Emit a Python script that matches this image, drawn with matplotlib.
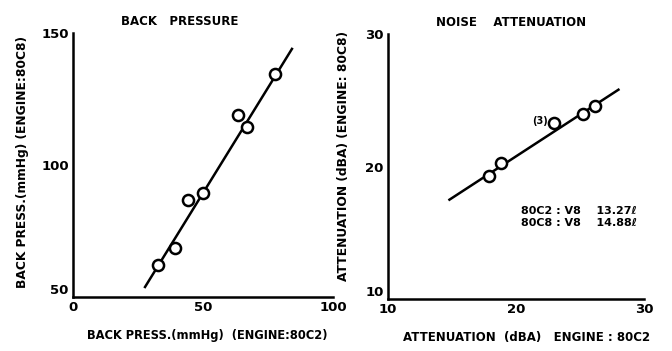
import matplotlib.pyplot as plt

# Back pressure (mmHg): engine 80C2 vs engine 80C8
bp_x = [32.7, 39.2, 44.2, 50.0, 63.5, 66.9, 77.7]
bp_y = [62.0, 68.5, 86.7, 89.4, 119.0, 114.5, 134.5]
bp_line_x = [27.7, 84.2]
bp_line_y = [53.8, 144.0]

# Noise attenuation (dBA): engine 80C2 vs engine 80C8
na_x = [17.9, 18.8, 23.0, 25.2, 26.2]
na_y = [19.3, 20.3, 23.3, 24.0, 24.6]
na_line_x = [14.8, 28.0]
na_line_y = [17.5, 25.8]

note_lines = ["80C2 : V8    13.27ℓ", "80C8 : V8    14.88ℓ"]

FONT = dict(family="DejaVu Sans", fontweight="bold", color="black")

fig = plt.figure(figsize=(6.72, 3.51), dpi=100)
fig.patch.set_facecolor("white")

ax1 = fig.add_axes([0.1086, 0.1538, 0.387, 0.752])
ax2 = fig.add_axes([0.5774, 0.148, 0.381, 0.755])


def style(ax):
    for s in ["top", "right"]:
        ax.spines[s].set_visible(False)
    for s in ["left", "bottom"]:
        ax.spines[s].set_linewidth(1.8)
        ax.spines[s].set_color("black")
    ax.tick_params(length=0, pad=3, labelsize=9.5)
    for lab in ax.get_xticklabels() + ax.get_yticklabels():
        lab.set_fontweight("bold")
        lab.set_family("DejaVu Sans")
    # lowest y tick label sits a little above the corner, as in the original
    ax.get_yticklabels()[0].set_va("bottom")


# left panel
ax1.plot(bp_line_x, bp_line_y, color="black", lw=1.8, zorder=2)
ax1.plot(bp_x, bp_y, "o", ms=8, mfc="white", mec="black", mew=1.8, zorder=3)
ax1.set_xlim(0, 100)
ax1.set_ylim(50, 150)
ax1.set_xticks([0, 50, 100])
ax1.set_yticks([50, 100, 150])
style(ax1)
ax1.set_xlabel("BACK PRESS.(mmHg)  (ENGINE:80C2)", fontsize=8.3, **FONT)
ax1.xaxis.set_label_coords(0.515, -0.12)
ax1.set_ylabel("BACK PRESS.(mmHg) (ENGINE:80C8)", fontsize=8.8, **FONT)
ax1.yaxis.set_label_coords(-0.17, 0.51)
ax1.set_title("BACK   PRESSURE", fontsize=8.5, pad=6, x=0.41, **FONT)

# right panel
ax2.plot(na_line_x, na_line_y, color="black", lw=1.8, zorder=2)
ax2.plot(na_x, na_y, "o", ms=8, mfc="white", mec="black", mew=1.8, zorder=3)
ax2.text(21.9, 23.4, "(3)", fontsize=7, ha="center", va="center", **FONT)
ax2.set_xlim(10, 30)
ax2.set_ylim(10, 30)
ax2.set_xticks([10, 20, 30])
ax2.set_yticks([10, 20, 30])
style(ax2)
ax2.set_xlabel("ATTENUATION  (dBA)   ENGINE : 80C2", fontsize=8.5, **FONT)
ax2.xaxis.set_label_coords(0.54, -0.12)
ax2.set_ylabel("ATTENUATION (dBA) (ENGINE: 80C8)", fontsize=8.8, **FONT)
ax2.yaxis.set_label_coords(-0.15, 0.54)
ax2.set_title("NOISE    ATTENUATION", fontsize=8.5, pad=6, x=0.48, **FONT)
ax2.text(0.52, 0.31, "\n".join(note_lines), transform=ax2.transAxes,
         fontsize=8, ha="left", va="center", linespacing=1.25, **FONT)

fig.savefig("out.png", dpi=100, facecolor="white")
